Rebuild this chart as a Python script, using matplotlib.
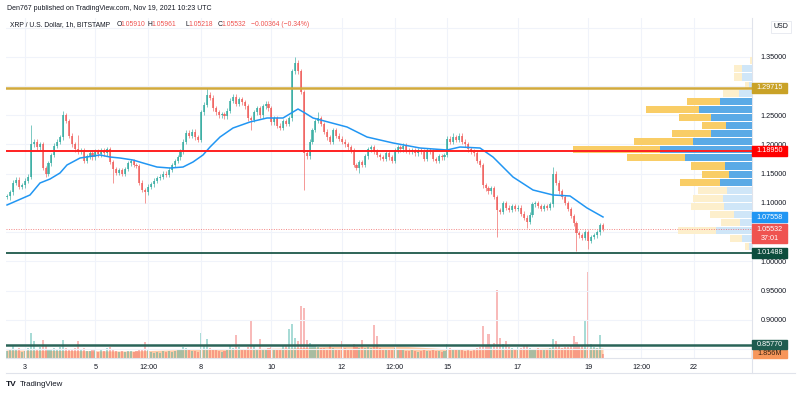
import matplotlib
matplotlib.use('Agg')
import matplotlib.pyplot as plt
import matplotlib.transforms as mtransforms
from matplotlib.patches import Rectangle
from matplotlib.lines import Line2D
import numpy as np

plt.rcParams['font.family'] = ['Liberation Sans', 'DejaVu Sans']

# XRP/USD, candles in 2h steps, first one Nov 2 12:00 UTC
t0 = 2.5
step = 2 / 24
first_open = 1.110
close = [
    1.112, 1.118, 1.135, 1.140, 1.128, 1.130, 1.138, 1.145, 1.200, 1.205, 1.195, 1.200,
    1.160, 1.150, 1.168, 1.182, 1.198, 1.205, 1.212, 1.250, 1.240, 1.215, 1.200, 1.192,
    1.188, 1.190, 1.172, 1.180, 1.185, 1.178, 1.188, 1.183, 1.190, 1.185, 1.192, 1.170,
    1.158, 1.152, 1.156, 1.150, 1.158, 1.168, 1.172, 1.165, 1.163, 1.135, 1.122, 1.118,
    1.128, 1.132, 1.138, 1.143, 1.145, 1.150, 1.148, 1.157, 1.165, 1.172, 1.178, 1.188,
    1.205, 1.220, 1.215, 1.222, 1.212, 1.208, 1.255, 1.268, 1.285, 1.280, 1.262, 1.255,
    1.250, 1.252, 1.248, 1.258, 1.275, 1.282, 1.270, 1.278, 1.272, 1.265, 1.245, 1.242,
    1.255, 1.262, 1.250, 1.265, 1.270, 1.262, 1.238, 1.245, 1.232, 1.228, 1.240, 1.235,
    1.245, 1.325, 1.340, 1.325, 1.290, 1.185, 1.180, 1.205, 1.225, 1.240, 1.245, 1.235,
    1.222, 1.212, 1.205, 1.225, 1.215, 1.210, 1.205, 1.200, 1.195, 1.190, 1.165, 1.160,
    1.170, 1.165, 1.180, 1.192, 1.195, 1.188, 1.182, 1.178, 1.175, 1.185, 1.178, 1.172,
    1.190, 1.195, 1.192, 1.198, 1.190, 1.188, 1.190, 1.185, 1.190, 1.188, 1.176, 1.190,
    1.188, 1.175, 1.172, 1.180, 1.178, 1.182, 1.210, 1.205, 1.212, 1.208, 1.215, 1.205,
    1.200, 1.192, 1.188, 1.185, 1.172, 1.165, 1.130, 1.125, 1.120, 1.125, 1.110, 1.088,
    1.085, 1.100, 1.092, 1.088, 1.095, 1.090, 1.092, 1.082, 1.075, 1.068, 1.080, 1.098,
    1.100, 1.095, 1.090, 1.095, 1.092, 1.098, 1.150, 1.135, 1.120, 1.110, 1.100, 1.090,
    1.078, 1.065, 1.048, 1.045, 1.040, 1.050, 1.035, 1.042, 1.045, 1.050, 1.062, 1.05532,
]
wick = 0.004
spike_high = {8: 1.233, 19: 1.257, 24: 1.216, 68: 1.296, 98: 1.350, 106: 1.255,
              152: 1.220, 186: 1.161}
spike_low = {1: 1.105, 13: 1.145, 36: 1.134, 47: 1.100, 83: 1.225, 101: 1.122,
             120: 1.152, 167: 1.042, 177: 1.058, 194: 1.018, 198: 1.022}

# blue moving average (day of month, price)
ma_day = [2.489, 3.142, 3.426, 3.710, 3.994, 4.193, 4.563, 5.131, 5.415, 5.699, 6.068,
          6.352, 6.750, 7.119, 7.489, 7.773, 8.057, 8.256, 8.540, 8.909, 9.392, 9.875,
          10.330, 10.756, 10.955, 11.182, 12.148, 12.716, 13.455, 14.222, 14.989, 15.358,
          15.926, 16.295, 16.864, 17.432, 18.000, 18.483, 18.966, 19.420]
ma_val = [1.0966, 1.1137, 1.1342, 1.1410, 1.1513, 1.1650, 1.1769, 1.1821, 1.1786, 1.1769,
          1.1735, 1.1684, 1.1615, 1.1598, 1.1615, 1.1701, 1.1821, 1.1957, 1.2128, 1.2282,
          1.2385, 1.2453, 1.2453, 1.2607, 1.2538, 1.2453, 1.2299, 1.2128, 1.2026, 1.1940,
          1.1906, 1.1957, 1.1940, 1.1786, 1.1444, 1.1222, 1.1137, 1.1120, 1.0915, 1.0761]

# volume in millions, same 2h steps
volume = [
    3.2, 4.1, 5.5, 3.6, 4.8, 2.9, 3.4, 4.4, 11.5, 7.8, 4.2, 5.1,
    8.3, 5.6, 4.0, 3.5, 4.6, 3.8, 5.2, 8.3, 4.4, 3.6, 3.9, 4.5,
    7.8, 3.9, 4.8, 3.4, 3.1, 3.6, 4.2, 2.9, 3.5, 3.2, 4.6, 5.1,
    3.8, 3.4, 2.8, 3.2, 2.6, 3.0, 3.4, 2.7, 3.1, 4.2, 3.8, 7.4,
    3.6, 2.9, 2.5, 2.8, 2.4, 3.1, 2.7, 3.0, 2.6, 3.3, 3.8, 4.1,
    5.2, 4.4, 3.6, 3.2, 3.0, 2.9, 11.5, 6.2, 8.7, 4.8, 3.9, 3.5,
    3.2, 2.8, 3.4, 4.2, 5.6, 4.6, 10.6, 5.0, 4.1, 3.8, 4.9, 17.0,
    5.6, 4.3, 8.7, 4.1, 3.7, 4.4, 5.2, 4.0, 3.6, 4.3, 5.4, 6.0,
    13.3, 15.6, 9.2, 7.8, 23.9, 23.0, 8.5, 6.9, 5.8, 6.2, 5.0, 4.6,
    4.8, 4.2, 5.4, 4.6, 4.1, 3.8, 7.8, 4.4, 3.9, 4.3, 6.4, 5.2,
    4.6, 8.3, 4.8, 5.1, 4.4, 15.2, 10.1, 4.6, 3.8, 4.2, 3.6, 4.0,
    4.4, 3.8, 3.5, 4.1, 3.3, 3.0, 3.6, 3.2, 2.8, 3.4, 4.0, 3.1,
    3.4, 3.7, 3.0, 3.3, 2.9, 3.2, 6.4, 4.8, 3.9, 3.6, 4.3, 3.5,
    3.2, 3.8, 3.4, 4.1, 4.6, 5.2, 14.7, 6.0, 11.0, 5.5, 6.8, 31.3,
    9.2, 6.4, 7.8, 5.1, 4.6, 4.3, 5.0, 4.4, 5.3, 6.0, 4.7, 4.2,
    3.9, 4.4, 3.8, 4.2, 3.6, 4.8, 8.7, 7.8, 5.5, 4.6, 5.2, 4.9,
    5.6, 10.1, 7.4, 6.2, 5.8, 17.5, 39.6, 6.4, 5.1, 4.6, 10.6, 1.856,
]
vol_ma_day = [2.46, 5.98, 7.97, 10.53, 11.95, 13.65, 14.60, 15.56, 17.91, 19.42]
vol_ma = [3.7, 3.2, 4.1, 4.6, 5.5, 5.5, 4.6, 3.7, 4.6, 4.6]

# visible range volume profile, rows from top (1.350) to bottom (1.018)
vp_lo, vp_hi = 1.018, 1.350
vp_up = [0.0, 10.0, 10.0, 3.3, 13.3, 32.3, 53.0, 40.7, 25.7, 41.3, 59.0, 92.3,
         67.3, 27.3, 23.3, 31.7, 24.7, 29.0, 28.3, 18.3, 11.7, 36.3, 10.0, 3.3]
vp_down = [1.7, 8.3, 8.3, 3.3, 15.7, 32.7, 52.7, 32.7, 24.0, 39.3, 59.0, 87.0,
           58.3, 34.0, 26.3, 40.0, 29.3, 30.0, 32.3, 24.0, 19.0, 37.7, 12.3, 3.3]
value_area = range(5, 16)

gold_level = 1.29715
red_level = 1.18950
green_level = 1.01488
vol_level = 0.85770
last_price = 1.05532
ma_last = 1.07558

x_ticks = [3, 5, 6.5, 8, 10, 12, 13.5, 15, 17, 19, 20.5, 22]
x_labels = ['3', '5', '12:00', '8', '10', '12', '12:00', '15', '17', '19', '12:00', '22']
y_ticks = [0.85, 0.90, 0.95, 1.00, 1.05, 1.10, 1.15, 1.20, 1.25, 1.30, 1.35, 1.40]
y_hidden = [0.85, 1.05, 1.30, 1.40]   # covered by price tags on the scale

W, H = 800, 395
fig = plt.figure(figsize=(W / 100, H / 100), dpi=100)
ax = fig.add_axes([6 / W, 37 / H, 746 / W, 340 / H])
vax = ax.twinx()
ax.set_zorder(vax.get_zorder() + 1)
ax.patch.set_visible(False)

xmin, xmax = 2.46, 23.653
ax.set_xlim(xmin, xmax)
ax.set_ylim(0.83504, 1.41624)
vax.set_ylim(0, 156.4)

txt = '#131722'
grid = '#f0f3fa'
up_c, dn_c = '#26a69a', '#ef5350'

# candles
close = np.array(close)
n = len(close)
days = t0 + step * np.arange(n)
opens = np.r_[first_open, close[:-1]]
hi = np.maximum(opens, close) + wick
lo = np.minimum(opens, close) - wick
for k, v in spike_high.items():
    hi[k] = v
for k, v in spike_low.items():
    lo[k] = v
up = close >= opens
cols = np.where(up, up_c, dn_c)
ax.vlines(days, lo, hi, colors=cols, lw=0.6, alpha=0.7, zorder=3)
ax.bar(days, np.maximum(np.abs(close - opens), 0.0015), bottom=np.minimum(opens, close),
       width=step * 0.7, color=cols, alpha=0.7, lw=0, zorder=3)

ax.plot(ma_day, ma_val, color='#2196f3', lw=1.1, zorder=4)

# volume pane
vax.fill_between(vol_ma_day, 0, vol_ma, color='#ff9850', alpha=0.5, lw=0, zorder=1)
vax.bar(days, volume, width=step * 0.7, color=cols, alpha=0.4, lw=0, zorder=2)
vax.set_yticks([])
for s in vax.spines.values():
    s.set_visible(False)

# volume profile
row_h = (vp_hi - vp_lo) / len(vp_up)
centers = vp_hi - row_h * (np.arange(len(vp_up)) + 0.5)
scale = 0.24 * (xmax - xmin) / max(u + d for u, d in zip(vp_up, vp_down))
for i, (u, d) in enumerate(zip(vp_up, vp_down)):
    strong = i in value_area
    bc = '#5aaae6' if strong else '#cfe6f8'
    yc = '#f9cd66' if strong else '#fdefcc'
    ax.barh(centers[i], u * scale, left=xmax - u * scale, height=row_h * 0.88,
            color=bc, lw=0, zorder=3.5)
    ax.barh(centers[i], d * scale, left=xmax - (u + d) * scale, height=row_h * 0.88,
            color=yc, lw=0, zorder=3.5)

# horizontal levels
ax.axhline(gold_level, color='#d2aa3c', lw=1.8, zorder=5)
ax.axhline(red_level, color='#ff2020', lw=1.4, zorder=5)
ax.axhline(green_level, color='#0b4a3b', lw=1.2, zorder=5)
ax.axhline(vol_level, color='#2a6458', lw=1.8, zorder=5)
ax.axhline(last_price, color=dn_c, lw=0.7, ls=(0, (1, 1.5)), alpha=0.7, zorder=5)

# axes styling
ax.set_xticks(x_ticks)
ax.set_xticklabels(x_labels)
ax.set_yticks(y_ticks)
ax.set_yticklabels(['' if v in y_hidden else '%.5f' % v for v in y_ticks])
ax.yaxis.tick_right()
ax.tick_params(axis='both', length=0, labelsize=5.2, colors=txt)
ax.tick_params(axis='y', pad=6)
ax.tick_params(axis='x', pad=4)
ax.grid(color=grid, lw=0.8)
ax.set_axisbelow(True)
for side in ['top', 'left']:
    ax.spines[side].set_visible(False)
for side in ['right', 'bottom']:
    ax.spines[side].set_color('#e0e3eb')
    ax.spines[side].set_linewidth(0.8)


def price_tag(axis, y, text, bg, fg='white', half=5, lines=None):
    tr = mtransforms.blended_transform_factory(axis.transAxes, axis.transData)
    y0 = axis.transData.transform((0, y))[1]
    inv = axis.transData.inverted()
    top = inv.transform((0, y0 + half))[1]
    bot = inv.transform((0, y0 - half - (9 if lines else 0)))[1]
    axis.add_patch(Rectangle((1.0, bot), 35 / 746, top - bot, transform=tr, color=bg,
                             clip_on=False, zorder=8))
    axis.text(1.0 + 17.5 / 746, y, text, transform=tr, ha='center', va='center',
              color=fg, fontsize=5.2, zorder=9, clip_on=False)
    if lines:
        yl = inv.transform((0, y0 - 9))[1]
        axis.text(1.0 + 17.5 / 746, yl, lines, transform=tr, ha='center', va='center',
                  color=fg, fontsize=5.2, zorder=9, clip_on=False)


price_tag(ax, gold_level, '%.5f' % gold_level, '#c9a227')
price_tag(ax, red_level, '%.5f' % red_level, '#ff0000')
price_tag(ax, ma_last, '%.5f' % ma_last, '#2196f3')
price_tag(ax, last_price, '%.5f' % last_price, '#ef5350', lines='37:01')
price_tag(ax, green_level, '%.5f' % green_level, '#0d4d3d')
price_tag(ax, vol_level, '%.5f' % vol_level, '#1f5c50', half=4.5)
price_tag(vax, volume[-1], '%.3fM' % volume[-1], '#f7965a', fg='#3a2210', half=4)

fig.text(781 / W, 1 - 27 / H, 'USD', fontsize=5, color=txt, ha='center', va='center',
         bbox=dict(facecolor='white', edgecolor='#e0e3eb', lw=0.5, pad=1.5))

# frame lines of the time scale
fig.add_artist(Line2D([6 / W, 795 / W], [1 - 373 / H] * 2, color='#e0e3eb', lw=0.8))
fig.add_artist(Line2D([752 / W] * 2, [1 - 358 / H, 1 - 373 / H], color='#e0e3eb', lw=0.8))

# header and legend
fig.text(7 / W, 1 - 8 / H, 'Den767 published on TradingView.com, Nov 19, 2021 10:23 UTC',
         fontsize=5.0, color=txt, va='center')
fs = 4.9
fig.text(10 / W, 1 - 25 / H, 'XRP / U.S. Dollar, 1h, BITSTAMP', fontsize=fs, color=txt,
         va='center')
legend = [(116.7, 'O', txt), (120.7, '1.05910', dn_c), (147.3, 'H', txt),
          (151.7, '1.05961', dn_c), (185, 'L', txt), (188.3, '1.05218', dn_c),
          (217.3, 'C', txt), (221.3, '1.05532', dn_c), (250.7, '\u22120.00364 (\u22120.34%)', dn_c)]
for x, s, c in legend:
    fig.text(x / W, 1 - 25 / H, s, fontsize=fs, color=c, va='center')

fig.text(6 / W, 1 - 385 / H, 'TV', fontsize=6, color=txt, va='center', fontweight='bold')
fig.text(20 / W, 1 - 385 / H, 'TradingView', fontsize=5.7, color=txt, va='center')

plt.savefig('out.png', dpi=100)
